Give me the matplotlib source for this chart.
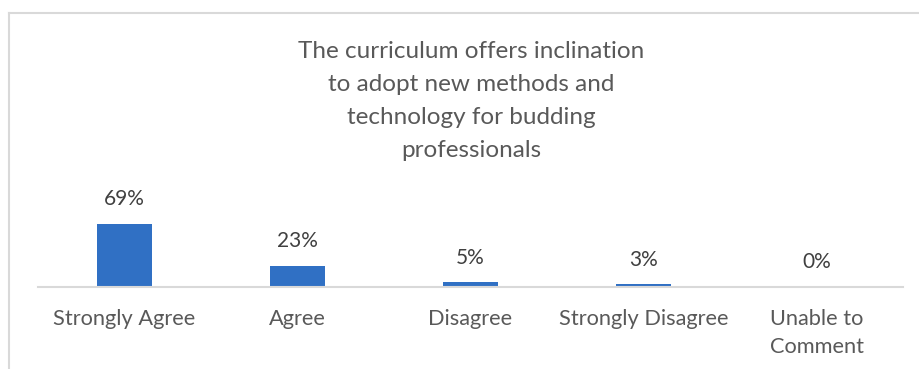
import matplotlib.pyplot as plt
from matplotlib.lines import Line2D

plt.rcParams['font.family'] = ['Lato', 'DejaVu Sans']

categories = ['Strongly Agree', 'Agree', 'Disagree', 'Strongly Disagree', 'Unable to\nComment']
values = [69, 23, 5, 3, 0]
labels = ['69%', '23%', '5%', '3%', '0%']
title = ('The curriculum offers inclination\nto adopt new methods and\n'
         'technology for budding\nprofessionals')

W, H = 919, 369
fig = plt.figure(figsize=(W / 100, H / 100), dpi=100)

# plot area in pixels: x 38..903, baseline at y=287
ax = fig.add_axes([38 / W, (H - 287) / H, 865 / W, 127 / H])
x = range(len(categories))
ax.bar(x, values, width=0.32, color='#3070C4')
ax.set_xlim(-0.5, len(categories) - 0.5)
ax.set_ylim(0, 139)

for i, (v, lab) in enumerate(zip(values, labels)):
    ax.annotate(lab, (i, v), xytext=(0, 10.5), textcoords='offset points',
                ha='center', va='bottom', fontsize=15, color='#404040')

ax.set_xticks(list(x))
ax.set_xticklabels(categories, fontsize=15.7, color='#595959', linespacing=1.46)
ax.tick_params(axis='x', length=0, pad=16)
ax.set_yticks([])
for s in ['top', 'right', 'left']:
    ax.spines[s].set_visible(False)
ax.spines['bottom'].set_color('#D9D9D9')
ax.spines['bottom'].set_linewidth(1.5)

fig.text(471 / W, 1 - 41 / H, title, ha='center', va='top', fontsize=17.5,
         color='#595959', linespacing=1.7)

# chart border (cropped)
fig.add_artist(Line2D([9 / W, 1], [1 - 12.5 / H, 1 - 12.5 / H], color='#D9D9D9', lw=1.5))
fig.add_artist(Line2D([9 / W, 9 / W], [0, 1 - 12.5 / H], color='#D9D9D9', lw=1.5))

fig.savefig('out.png', dpi=100)
